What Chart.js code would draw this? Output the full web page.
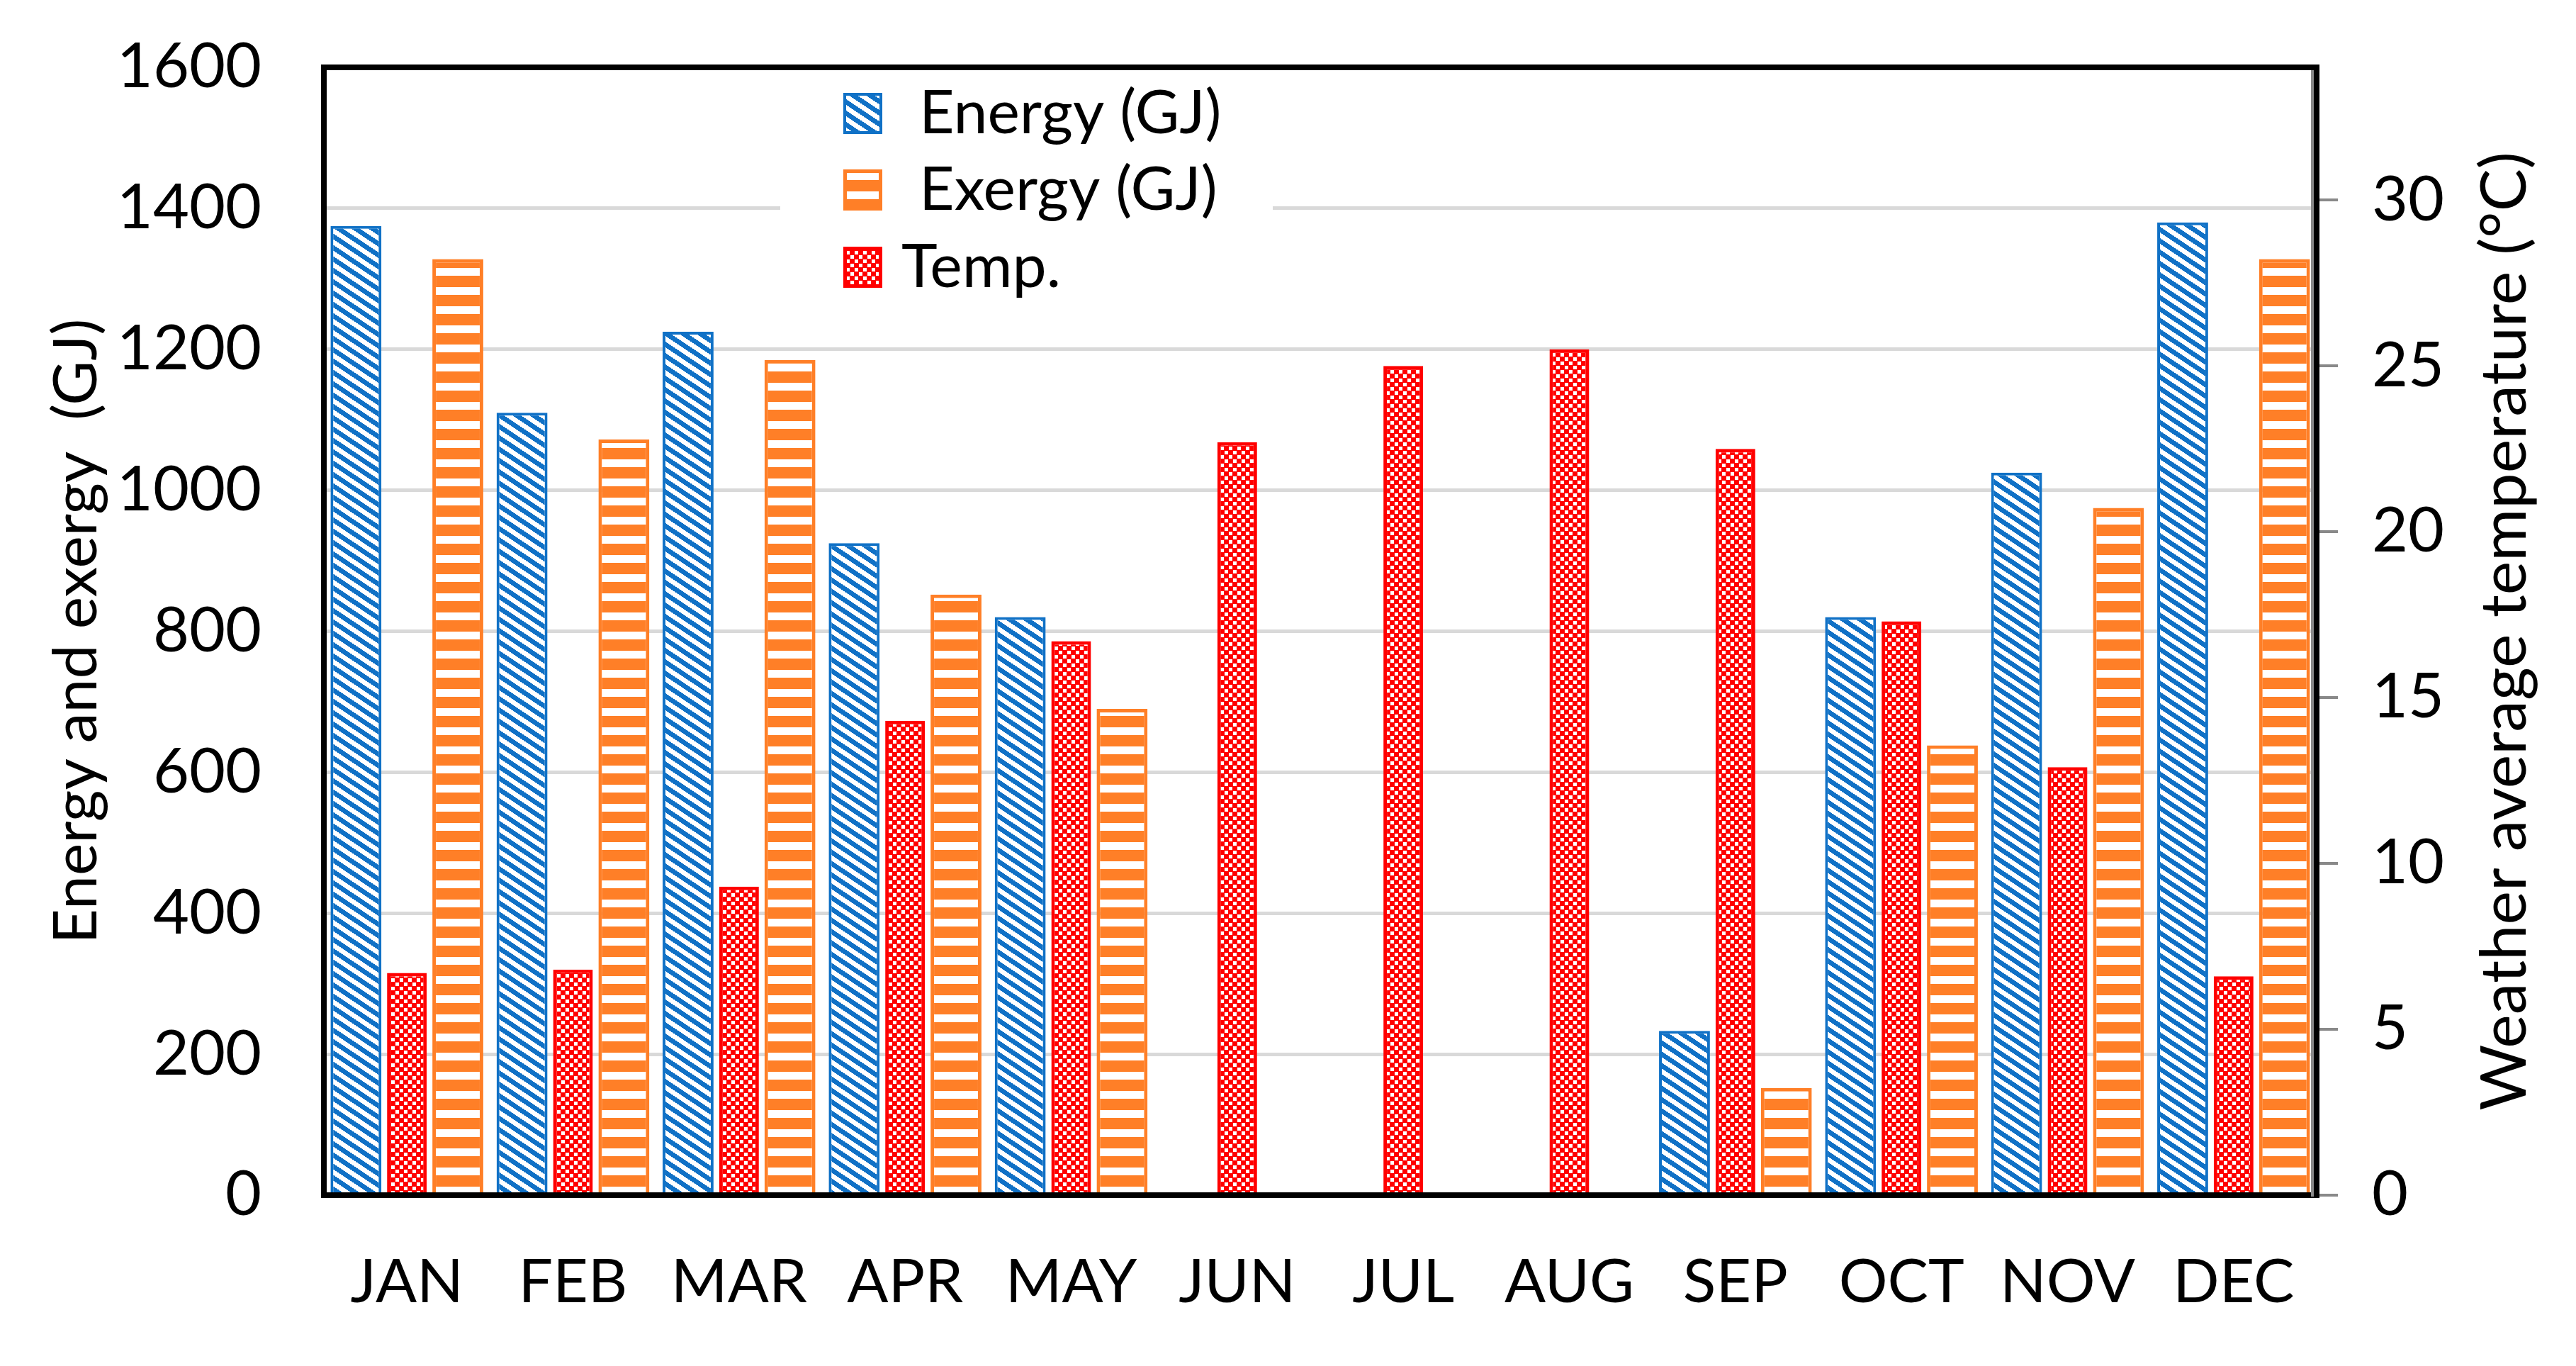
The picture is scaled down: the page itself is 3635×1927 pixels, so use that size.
<!DOCTYPE html>
<html>
<head>
<meta charset="utf-8">
<script src="https://cdn.jsdelivr.net/npm/chart.js@4.4.0/dist/chart.umd.min.js"></script>
<style>
  html, body { margin: 0; padding: 0; background: #fff; }
</style>
</head>
<body>
<canvas id="chart" width="3635" height="1927"></canvas>
<script>
// === DATA ===
const months = ["JAN", "FEB", "MAR", "APR", "MAY", "JUN", "JUL", "AUG", "SEP", "OCT", "NOV", "DEC"];
const energy = [1375, 1110, 1225, 925, 820, 0, 0, 0, 233, 820, 1025, 1380];
const exergy = [1328, 1072, 1185, 852, 690, 0, 0, 0, 152, 638, 975, 1328];
const temp = [6.7, 6.8, 9.3, 14.3, 16.7, 22.7, 25.0, 25.5, 22.5, 17.3, 12.9, 6.6];
const leftAxis = { min: 0, max: 1600, step: 200 };
const rightAxis = { min: 0, max: 34, step: 5 };

const BLUE = "#1071C6";
const ORANGE = "#FF7F27";
const RED = "#FF0000";
const FONT = "Lato";

// === PATTERNS ===
function tile(w, h, paint) {
  const c = document.createElement("canvas");
  c.width = w; c.height = h;
  const g = c.getContext("2d");
  const img = g.createImageData(w, h);
  for (let y = 0; y < h; y++) {
    for (let x = 0; x < w; x++) {
      const col = paint(x, y);
      const i = (y * w + x) * 4;
      img.data[i] = col[0]; img.data[i + 1] = col[1]; img.data[i + 2] = col[2]; img.data[i + 3] = 255;
    }
  }
  g.putImageData(img, 0, 0);
  return c;
}
const white = [255, 255, 255];
const blueTile = tile(24, 16, (x, y) => {
  const v = (((y - x * 2 / 3) % 16) + 16) % 16;
  return v < 8 ? [16, 113, 198] : white;
});
const orangeTile = tile(4, 27, (x, y) => (y % 27 < 11 ? white : [255, 127, 39]));
const redTile = tile(12, 12, (x, y) => {
  const on = (((x / 6) | 0) + ((y / 6) | 0)) % 2 === 0;
  return on && x % 6 < 5 && y % 6 < 5 ? white : [255, 0, 0];
});

const canvas = document.getElementById("chart");
const ctx = canvas.getContext("2d");
const bluePat = ctx.createPattern(blueTile, "repeat");
const orangePat = ctx.createPattern(orangeTile, "repeat");
const redPat = ctx.createPattern(redTile, "repeat");

// === PLUGINS: frame, right axis line, legend, right title ===
const frame = {
  id: "frame",
  afterDatasetsDraw(chart) {
    const { ctx, chartArea: a } = chart;
    ctx.save();
    ctx.strokeStyle = "#000";
    ctx.lineWidth = 8;
    ctx.strokeRect(a.left, a.top, a.right - a.left, a.bottom - a.top);
    ctx.strokeStyle = "#898989";
    ctx.lineWidth = 4;
    ctx.beginPath();
    ctx.moveTo(a.right - 6, a.top + 4);
    ctx.lineTo(a.right - 6, a.bottom + 2);
    ctx.stroke();
    ctx.restore();
  }
};

const legendBox = {
  id: "legendBox",
  afterDraw(chart) {
    const { ctx } = chart;
    ctx.save();
    ctx.fillStyle = "#fff";
    ctx.fillRect(1101, 104, 695, 340);
    const rows = [
      { label: "Energy (GJ)", pat: bluePat, col: BLUE, y: 160, tx: 1297, bw: 4 },
      { label: "Exergy (GJ)", pat: orangePat, col: ORANGE, y: 268, tx: 1297, bw: 5 },
      { label: "Temp.", pat: redPat, col: RED, y: 377, tx: 1272, bw: 5 }
    ];
    rows.forEach(r => {
      const x = 1190, w = 55, h = 58, y = r.y - h / 2;
      ctx.fillStyle = r.pat;
      ctx.fillRect(x, y, w, h);
      ctx.strokeStyle = r.col;
      ctx.lineWidth = r.bw;
      ctx.strokeRect(x + r.bw / 2, y + r.bw / 2, w - r.bw, h - r.bw);
      ctx.fillStyle = "#000";
      ctx.font = `86px ${FONT}`;
      ctx.textBaseline = "middle";
      ctx.textAlign = "left";
      ctx.fillText(r.label, r.tx, r.y);
    });
    // right axis title, reads bottom to top
    const a = chart.chartArea;
    ctx.translate(3535, (a.top + a.bottom) / 2);
    ctx.rotate(-Math.PI / 2);
    ctx.textAlign = "center";
    ctx.font = `90px ${FONT}`;
    ctx.fillText("Weather average temperature (\u00B0C)", 0, 0);
    ctx.restore();
  }
};

// vertical axes should not push the plot down for their end labels
function fixWidth(w) {
  return s => {
    s.width = w;
    s.paddingTop = 0;
    s.paddingBottom = 0;
  };
}

// === CHART ===
new Chart(ctx, {
  type: "bar",
  data: {
    labels: months,
    datasets: [
      {
        label: "Energy (GJ)", data: energy, yAxisID: "y",
        backgroundColor: bluePat, borderColor: BLUE, borderWidth: 4,
        barPercentage: 1.0, categoryPercentage: 0.92
      },
      {
        label: "Temp.", data: temp, yAxisID: "y1",
        backgroundColor: redPat, borderColor: RED, borderWidth: 5,
        barPercentage: 0.78, categoryPercentage: 0.92
      },
      {
        label: "Exergy (GJ)", data: exergy, yAxisID: "y",
        backgroundColor: orangePat, borderColor: ORANGE, borderWidth: 5,
        barPercentage: 1.0, categoryPercentage: 0.92
      }
    ]
  },
  options: {
    responsive: false,
    devicePixelRatio: 1,
    animation: false,
    layout: { padding: { top: 95, left: 0, right: 0, bottom: 0 } },
    plugins: { legend: { display: false }, tooltip: { enabled: false } },
    scales: {
      x: {
        grid: { display: false, drawTicks: false },
        border: { display: false },
        ticks: { color: "#000", font: { family: FONT, size: 86 }, padding: 72 },
        afterFit: s => { s.height = 241; s.paddingLeft = 0; s.paddingRight = 0; }
      },
      y: {
        position: "left",
        min: leftAxis.min, max: leftAxis.max,
        ticks: {
          stepSize: leftAxis.step, color: "#000", font: { family: FONT, size: 88 }, padding: 88,
          callback: v => String(v)
        },
        grid: { color: "#D9D9D9", lineWidth: 5, drawTicks: false },
        border: { display: false },
        title: {
          display: true, text: "Energy and exergy  (GJ)", color: "#000",
          font: { family: FONT, size: 86 }, padding: { top: 57, bottom: 0 }
        },
        afterFit: fixWidth(457)
      },
      y1: {
        position: "right",
        min: rightAxis.min, max: rightAxis.max,
        ticks: {
          stepSize: rightAxis.step, includeBounds: false, color: "#000", font: { family: FONT, size: 88 }, padding: 48,
          callback: v => String(v)
        },
        grid: { drawOnChartArea: false, drawTicks: true, tickLength: 30, color: "#898989", lineWidth: 4 },
        border: { display: false },
        afterFit: fixWidth(366)
      }
    }
  },
  plugins: [frame, legendBox]
});
</script>
</body>
</html>
